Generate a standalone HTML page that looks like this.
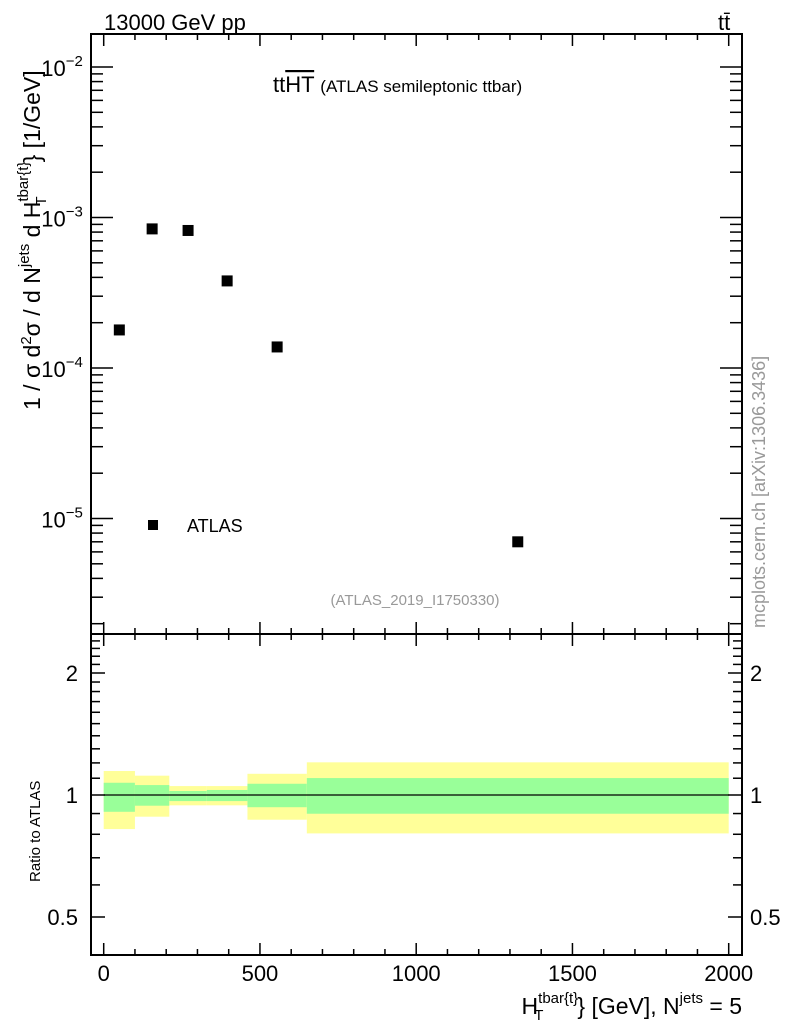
<!DOCTYPE html>
<html><head><meta charset="utf-8"><style>
html,body{margin:0;padding:0;background:#fff;}
svg{display:block;font-family:"Liberation Sans",sans-serif;}
</style></head><body>
<svg id="c" width="786" height="1024" viewBox="0 0 786 1024" xmlns="http://www.w3.org/2000/svg">
<g id="bands"></g>
<g id="axes"></g>
<g id="pts"></g>
<text x="104" y="30" font-size="22">13000 GeV pp</text>
<text x="718" y="30" font-size="22">tt̄</text>
<text x="273" y="92" font-size="22">tt<tspan text-decoration="overline">HT</tspan> <tspan font-size="17">(ATLAS semileptonic ttbar)</tspan></text>
<text x="415" y="605" font-size="15" fill="#999" text-anchor="middle">(ATLAS_2019_I1750330)</text>
<rect x="148" y="520" width="10" height="10" fill="#000"/>
<text x="187" y="532" font-size="18">ATLAS</text>
<text transform="translate(765,628) rotate(-90)" font-size="18" fill="#999">mcplots.cern.ch [arXiv:1306.3436]</text>
<text transform="translate(40,410) rotate(-90)" font-size="23">1 / σ d<tspan dy="-9" font-size="15">2</tspan><tspan dy="9">σ / d N</tspan><tspan dy="-11" font-size="15">jets</tspan><tspan dy="11"> d H</tspan><tspan dy="-12" font-size="15">tbar{t}</tspan><tspan dy="18" dx="-44" font-size="15">T</tspan><tspan dy="-6" dx="34">} [1/GeV]</tspan></text>
<text transform="translate(40,882) rotate(-90)" font-size="15">Ratio to ATLAS</text>
<text x="742" y="1014" font-size="23" text-anchor="end">H<tspan dy="-11" font-size="15">tbar{t}</tspan><tspan dy="17" dx="-44" font-size="15">T</tspan><tspan dy="-6" dx="34">} [GeV], N</tspan><tspan dy="-11" font-size="15">jets</tspan><tspan dy="11"> = 5</tspan></text>
</svg>
<script>
const binEdges=[0,100,210,330,460,650,2000];
const xCenters=[50,155,270,395,555,1325];
const yValues=[1.79e-4,8.4e-4,8.2e-4,3.79e-4,1.38e-4,7.0e-6];
const yellowHi=[1.146,1.116,1.052,1.052,1.128,1.204];
const yellowLo=[0.824,0.884,0.943,0.943,0.869,0.804];
const greenHi=[1.072,1.058,1.023,1.029,1.066,1.101];
const greenLo=[0.909,0.941,0.966,0.966,0.933,0.899];
const xTickLabels=[0,500,1000,1500,2000];
const yTickExps=[-2,-3,-4,-5];
const rTicks=[0.5,1,2];

const NS="http://www.w3.org/2000/svg";
const L=91,R=742,T=34,MB=634,RB=955;
const sx=v=>103.7+v*0.3125;
const sy=v=>67+(-2-Math.log10(v))*150.5;
const sr=v=>795-Math.log2(v)*122;
function mk(p,tag,a){const e=document.createElementNS(NS,tag);for(const k in a)e.setAttribute(k,a[k]);p.appendChild(e);return e;}
const ax=document.getElementById('axes'),bd=document.getElementById('bands'),pg=document.getElementById('pts');

for(let i=0;i<binEdges.length-1;i++){
  const x0=sx(binEdges[i]),x1=sx(binEdges[i+1]);
  const y=mk(bd,'rect',{x:x0,y:sr(yellowHi[i]),width:x1-x0,height:sr(yellowLo[i])-sr(yellowHi[i]),fill:'#ffff99'});
  
  
  const g=mk(bd,'rect',{x:x0,y:sr(greenHi[i]),width:x1-x0,height:sr(greenLo[i])-sr(greenHi[i]),fill:'#99ff99'});
  
  
}
const ref=mk(bd,'line',{x1:sx(0),x2:sx(2000),y1:sr(1),y2:sr(1),stroke:'#000','stroke-width':1.2});



for(let i=0;i<xCenters.length;i++){
  const r=mk(pg,'rect',{x:sx(xCenters[i])-5.5,y:sy(yValues[i])-5.5,width:11,height:11,fill:'#000'});
  
  
}

const st={stroke:'#000','stroke-width':2,fill:'none'};
mk(ax,'rect',Object.assign({x:L,y:T,width:R-L,height:MB-T},st));
mk(ax,'rect',Object.assign({x:L,y:MB,width:R-L,height:RB-MB},st));
function ln(x1,y1,x2,y2){mk(ax,'line',{x1,y1,x2,y2,stroke:'#000','stroke-width':1.5});}
for(let v=0;v<=2000;v+=100){
  const x=sx(v),len=(v%500===0)?12:6;
  [[T,1],[MB,1],[MB,-1],[RB,-1]].forEach(([y0,d])=>ln(x,y0,x,y0+d*len));
}
xTickLabels.forEach(v=>{const t=mk(ax,'text',{x:sx(v),y:981,'font-size':22,'text-anchor':'middle'});t.textContent=v;

});
for(let e=-6;e<=-1;e++){for(let m=1;m<10;m++){const v=m*Math.pow(10,e);const y=sy(v);if(y<T||y>MB)continue;
 const len=m===1?22:12;ln(L,y,L+len,y);ln(R,y,R-len,y);}}
yTickExps.forEach(e=>{const t=mk(ax,'text',{x:62,y:sy(Math.pow(10,e))+9,'font-size':22,'text-anchor':'middle'});
t.innerHTML='10<tspan dy="-10" font-size="15">−'+(-e)+'</tspan>';

});
for(let v=0.4;v<=2.5;v+=0.1){const y=sr(v);if(y<MB||y>RB)continue;const maj=rTicks.some(r=>Math.abs(r-v)<1e-6);
 const len=maj?14:9;ln(L,y,L+len,y);ln(R,y,R-len,y);}
rTicks.forEach(v=>{[[78,'end'],[750,'start']].forEach(([x,a])=>{const t=mk(ax,'text',{x,y:sr(v)+8,'font-size':22,'text-anchor':a});t.textContent=v;

});});
</script>
</body></html>
